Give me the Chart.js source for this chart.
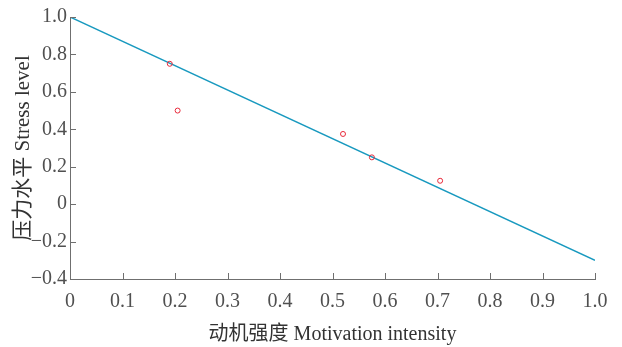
<!DOCTYPE html>
<html>
<head>
<meta charset="utf-8">
<script src="https://cdn.jsdelivr.net/npm/chart.js@4.4.0/dist/chart.umd.min.js"></script>
<style>
  html, body { margin: 0; padding: 0; background: #fff; }
  #wrap { position: relative; width: 622px; height: 347px; }
</style>
</head>
<body>
<div id="wrap"><canvas id="chart"></canvas></div>
<script>
// observed points
const motivation = [0.19, 0.205, 0.52, 0.575, 0.705];
const stress = [0.75, 0.5, 0.375, 0.25, 0.125];

// fitted line end points
const fitX = [0, 1];
const fitY = [1, -0.3];

const xTickValues = [0, 0.1, 0.2, 0.3, 0.4, 0.5, 0.6, 0.7, 0.8, 0.9, 1.0];
const xTickLabels = ['0', '0.1', '0.2', '0.3', '0.4', '0.5', '0.6', '0.7', '0.8', '0.9', '1.0'];
const yTickValues = [-0.4, -0.2, 0, 0.2, 0.4, 0.6, 0.8, 1.0];
const yTickLabels = ['\u22120.4', '\u22120.2', '0', '0.2', '0.4', '0.6', '0.8', '1.0'];

const axisColor = '#6f6f6f';
const textColor = '#505050';
const serif = "'Liberation Serif', 'Noto Sans CJK SC', serif";

// ticks point into the plot area
const innerTicks = {
  id: 'innerTicks',
  afterDraw(chart) {
    const { ctx, chartArea, scales } = chart;
    ctx.save();
    ctx.strokeStyle = axisColor;
    ctx.lineWidth = 1;
    ctx.beginPath();
    scales.x.ticks.forEach((t) => {
      const px = Math.round(scales.x.getPixelForValue(t.value)) + 0.5;
      ctx.moveTo(px, chartArea.bottom);
      ctx.lineTo(px, chartArea.bottom - 6);
    });
    scales.y.ticks.forEach((t) => {
      const py = Math.round(scales.y.getPixelForValue(t.value)) + 0.5;
      ctx.moveTo(chartArea.left, py);
      ctx.lineTo(chartArea.left + 6, py);
    });
    ctx.stroke();
    ctx.restore();
  },
};

new Chart(document.getElementById('chart'), {
  type: 'scatter',
  data: {
    datasets: [
      {
        // points drawn on top of the line
        order: 0,
        data: motivation.map((x, i) => ({ x, y: stress[i] })),
        borderColor: '#e8293a',
        backgroundColor: 'rgba(0,0,0,0)',
        borderWidth: 1,
        pointRadius: 2.5,
      },
      {
        order: 1,
        type: 'line',
        data: fitX.map((x, i) => ({ x, y: fitY[i] })),
        borderColor: '#1899bf',
        borderWidth: 1.5,
        pointRadius: 0,
        fill: false,
        tension: 0,
      },
    ],
  },
  options: {
    responsive: true,
    maintainAspectRatio: false,
    animation: false,
    layout: { padding: { left: 0, right: 27, top: 17, bottom: 0 } },
    plugins: {
      legend: { display: false },
      tooltip: { enabled: false },
    },
    scales: {
      x: {
        type: 'linear',
        min: 0,
        max: 1,
        afterBuildTicks: (scale) => { scale.ticks = xTickValues.map((v) => ({ value: v })); },
        afterFit: (scale) => { scale.height = 68; },
        grid: { display: false, drawTicks: false },
        border: { display: true, color: axisColor, width: 1 },
        ticks: {
          padding: 11,
          maxRotation: 0,
          autoSkip: false,
          color: textColor,
          font: { family: serif, size: 20 },
          callback: (v, i) => xTickLabels[i],
        },
        title: {
          display: true,
          text: '动机强度 Motivation intensity',
          color: '#333',
          font: { family: serif, size: 20 },
          padding: { top: 0, bottom: 0 },
        },
      },
      y: {
        type: 'linear',
        min: -0.4,
        max: 1.0,
        afterBuildTicks: (scale) => { scale.ticks = yTickValues.map((v) => ({ value: v })); },
        afterFit: (scale) => { scale.width = 70; },
        grid: { display: false, drawTicks: false },
        border: { display: true, color: axisColor, width: 1 },
        ticks: {
          padding: 3,
          autoSkip: false,
          color: textColor,
          font: { family: serif, size: 20 },
          callback: (v, i) => yTickLabels[i],
        },
        title: {
          display: true,
          text: '压力水平 Stress level',
          color: '#333',
          font: { family: serif, size: 21 },
          padding: { top: 11, bottom: 0 },
        },
      },
    },
  },
  plugins: [innerTicks],
});
</script>
</body>
</html>
